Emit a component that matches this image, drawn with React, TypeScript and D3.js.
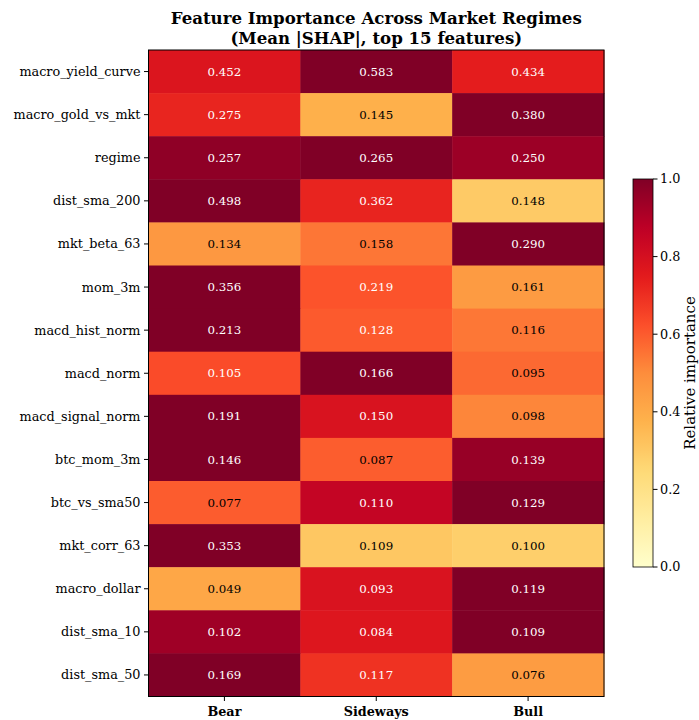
import React from "react";
import * as d3 from "d3";

const features = [
  "macro_yield_curve", "macro_gold_vs_mkt", "regime", "dist_sma_200", "mkt_beta_63",
  "mom_3m", "macd_hist_norm", "macd_norm", "macd_signal_norm", "btc_mom_3m",
  "btc_vs_sma50", "mkt_corr_63", "macro_dollar", "dist_sma_10", "dist_sma_50",
];
const regimes = ["Bear", "Sideways", "Bull"];
const bear = [0.452, 0.275, 0.257, 0.498, 0.134, 0.356, 0.213, 0.105, 0.191, 0.146, 0.077, 0.353, 0.049, 0.102, 0.169];
const sideways = [0.583, 0.145, 0.265, 0.362, 0.158, 0.219, 0.128, 0.166, 0.150, 0.087, 0.110, 0.109, 0.093, 0.084, 0.117];
const bull = [0.434, 0.380, 0.250, 0.148, 0.290, 0.161, 0.116, 0.095, 0.098, 0.139, 0.129, 0.100, 0.119, 0.109, 0.076];
const colorbarTicks = [0, 0.2, 0.4, 0.6, 0.8, 1.0];
const ylOrRd = ["#ffffcc", "#ffeda0", "#fed976", "#feb24c", "#fd8d3c", "#fc4e2a", "#e31a1c", "#bd0026", "#800026"];

const W = 699, H = 720;
const plot = { left: 148.5, right: 604, top: 50, bottom: 696.5 };
const cbar = { left: 633, right: 653, top: 179, bottom: 567 };
const FONT = "DejaVu Serif";

export default function App() {
  const series = [bear, sideways, bull];
  const x = d3.scaleBand().domain(regimes).range([plot.left, plot.right]);
  const y = d3.scaleBand().domain(features).range([plot.top, plot.bottom]);
  const color = d3
    .scaleLinear<string>()
    .domain(ylOrRd.map((_, i) => i / (ylOrRd.length - 1)))
    .range(ylOrRd)
    .interpolate(d3.interpolateRgb)
    .clamp(true);
  const cy = d3.scaleLinear().domain([0, 1]).range([cbar.bottom, cbar.top]);

  const cells: any[] = [];
  features.forEach((f, i) => {
    const vals = series.map((s) => s[i]);
    const mx = d3.max(vals) as number;
    regimes.forEach((r, j) => {
      const v = vals[j];
      const n = v / mx;
      cells.push({ f, r, v, n });
    });
  });

  const gradStops = d3.range(0, 1.0001, 0.02);

  return (
    <svg width={W} height={H} style={{ display: "block", position: "absolute", left: 0, top: 0 }} fontFamily={FONT}>
      <defs>
        <linearGradient id="cb" x1="0" y1="1" x2="0" y2="0">
          {gradStops.map((t) => (
            <stop key={t} offset={t} stopColor={color(t)} />
          ))}
        </linearGradient>
      </defs>
      <rect width={W} height={H} fill="#fff" />
      <text x={(plot.left + plot.right) / 2} y={24} textAnchor="middle" fontWeight="bold" fontSize={16.6}>
        Feature Importance Across Market Regimes
      </text>
      <text x={(plot.left + plot.right) / 2} y={43.5} textAnchor="middle" fontWeight="bold" fontSize={16.6}>
        (Mean |SHAP|, top 15 features)
      </text>
      {cells.map((c) => (
        <g key={c.f + c.r}>
          <rect
            x={x(c.r)}
            y={y(c.f)}
            width={x.bandwidth() + 0.5}
            height={y.bandwidth() + 0.5}
            fill={color(c.n)}
          />
          <text
            x={(x(c.r) as number) + x.bandwidth() / 2}
            y={(y(c.f) as number) + y.bandwidth() / 2}
            dy="0.35em"
            textAnchor="middle"
            fontSize={11.8}
            fill={c.n > 0.6 ? "#ffffff" : "#000000"}
          >
            {c.v.toFixed(3)}
          </text>
        </g>
      ))}
      <rect
        x={plot.left}
        y={plot.top}
        width={plot.right - plot.left}
        height={plot.bottom - plot.top}
        fill="none"
        stroke="#000"
        strokeWidth={1}
      />
      {features.map((f) => {
        const yy = (y(f) as number) + y.bandwidth() / 2;
        return (
          <g key={f}>
            <line x1={plot.left - 4.5} x2={plot.left} y1={yy} y2={yy} stroke="#000" strokeWidth={1} />
            <text x={plot.left - 8} y={yy} dy="0.35em" textAnchor="end" fontSize={12.8}>
              {f}
            </text>
          </g>
        );
      })}
      {regimes.map((r) => {
        const xx = (x(r) as number) + x.bandwidth() / 2;
        return (
          <g key={r}>
            <line x1={xx} x2={xx} y1={plot.bottom} y2={plot.bottom + 4.5} stroke="#000" strokeWidth={1} />
            <text x={xx} y={plot.bottom + 19} textAnchor="middle" fontWeight="bold" fontSize={12.8}>
              {r}
            </text>
          </g>
        );
      })}
      <rect
        x={cbar.left}
        y={cbar.top}
        width={cbar.right - cbar.left}
        height={cbar.bottom - cbar.top}
        fill="url(#cb)"
        stroke="#000"
        strokeWidth={0.8}
      />
      {colorbarTicks.map((t) => (
        <g key={t}>
          <line x1={cbar.right} x2={cbar.right + 4.5} y1={cy(t)} y2={cy(t)} stroke="#000" strokeWidth={1} />
          <text x={cbar.right + 7} y={cy(t)} dy="0.35em" fontSize={12.8}>
            {t.toFixed(1)}
          </text>
        </g>
      ))}
      <text
        transform={`translate(${694.5},${(cbar.top + cbar.bottom) / 2}) rotate(-90)`}
        textAnchor="middle"
        fontSize={15}
      >
        Relative importance
      </text>
    </svg>
  );
}
